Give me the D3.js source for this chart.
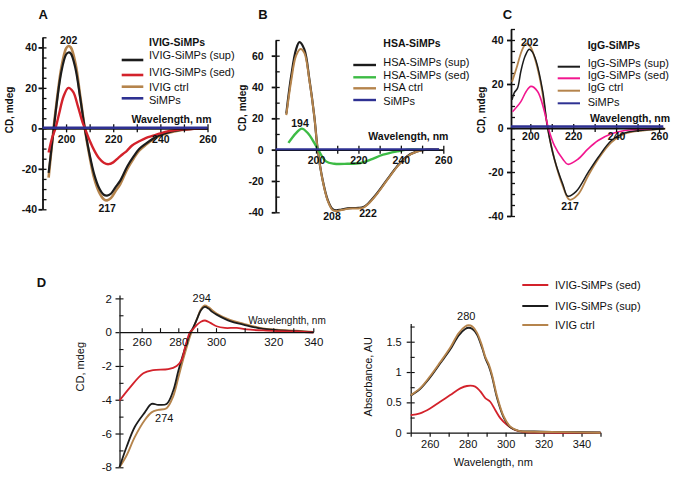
<!DOCTYPE html>
<html>
<head>
<meta charset="utf-8">
<script src="https://cdn.jsdelivr.net/npm/d3@7"></script>
<style>
  body { margin: 0; background: #fff; }
  svg { display: block; font-family: "Liberation Sans", Arial, sans-serif; }
</style>
</head>
<body>
<svg id="fig" width="685" height="478"></svg>
<script>
// ---- data: [wavelength (nm), value] ----

// A: IVIG-SiMPs, CD (mdeg)
const ivigSup = [[192.6,-22],[194.8,0],[196,12],[198,28],[200,36.5],[201,37.5],[202,37],[204,29.5],[206,15],[208,-0.5],[210,-13],[212,-23],[214,-29.5],[216,-32.8],[217.4,-33.2],[219,-32.3],[221,-29],[223,-25.8],[226,-18.7],[228.6,-14],[231,-10.2],[234,-7.4],[237,-5],[240,-3.3],[244,-1.8],[248,-0.9],[252,-0.4],[256,-0.1],[260,0]]
const ivigSed = [[192.6,-11.9],[194,-5],[195.5,0],[197,7],[199,16],[201,20],[203,18],[205,11],[207,3],[208,0],[210,-6],[212,-11],[214,-14.8],[216,-17],[218,-17.7],[220,-16.8],[222,-14.8],[224,-12.8],[225.8,-11.1],[228,-8.5],[231.5,-6.1],[234,-4.7],[237,-3.6],[240,-2.5],[243,-1.5],[246.5,-0.9],[250,-0.5],[255,-0.2],[260,0]]
const ivigCtrl = [[192.6,-24.4],[194.7,0],[196,13],[198,30],[200,39.5],[201,40.7],[202,40],[204,32],[206,16],[208,-0.5],[210,-14],[212,-25],[214,-31.5],[216,-35],[217.4,-35.6],[219,-34.5],[221,-31],[223,-27.5],[226,-20],[228.6,-15],[231,-11],[234,-8],[237,-5.5],[240,-3.6],[244,-2],[248,-1],[252,-0.4],[256,-0.1],[260,0]]
const simpsA = [[190,0.3],[260,0.3]]

// B: HSA-SiMPs, CD (mdeg)
const hsaSup = [[186,23],[188.3,47],[190.6,64],[192.2,68.6],[194.5,64],[196.9,44.7],[199.2,21.3],[200.8,0],[203.1,-19.2],[205.5,-32],[207.8,-38],[209.5,-38.8],[212,-38.2],[216,-37.3],[220,-37.2],[222.4,-36.6],[224.5,-34.5],[228.9,-27.7],[233.5,-19.2],[238.2,-10.7],[242.9,-4.3],[247.6,-1.1],[252,0],[258,0]]
const hsaSed = [[187,4.3],[190.6,10.6],[193.3,13.4],[196.1,10.6],[199.2,4.3],[201,0],[204.7,-7.5],[208.6,-9],[214.8,-9],[221,-8.5],[225.7,-6.4],[231.6,-3.2],[238.2,-1.1],[243,0],[250,0]]
const hsaCtrl = [[186,22],[188.3,44],[190.6,60],[192.7,64.3],[194.5,61.8],[196.9,44],[199.2,21],[200.8,0],[203.1,-19.5],[205.5,-32.5],[207.8,-38.5],[209.5,-39.2],[212,-38.5],[216,-37.6],[220,-37.5],[222.4,-37],[224.5,-34.8],[228.9,-28],[233.5,-19.5],[238.2,-11],[242.9,-4.5],[247.6,-1.2],[252,0],[258,0]]
const simpsB = [[181,0.3],[258,0.3]]

// C: IgG-SiMPs, CD (mdeg)
const iggSup = [[191.5,12.8],[192.5,16],[194,18],[195.6,25.8],[197.5,32.5],[199.5,35.8],[201,34.5],[202.7,30.5],[205.8,16.6],[208.1,0],[211.25,-14.2],[215.2,-25.7],[217.5,-31],[221.4,-28.8],[226.9,-20.3],[231.6,-13.4],[237.8,-5.7],[244,-2.2],[253.4,-0.9],[262.8,-0.3]]
const iggSed = [[191.7,7.4],[195.6,12],[198,16.5],[200.3,18.9],[203.4,16.6],[206.6,7.4],[208.4,0],[211.25,-8],[215.2,-14.2],[217.5,-16.5],[222.2,-14.2],[226.9,-9.5],[231.6,-5.7],[237.8,-2.6],[244,-1.1],[250.3,-0.6],[256.6,-0.3]]
const iggCtrl = [[191.5,21],[193.5,27],[196,35],[198,38.4],[200,37],[202,32],[205,19.7],[208.1,0],[211.25,-14.2],[215.2,-26.5],[218.3,-32.6],[222.2,-30.3],[226.9,-21.8],[231.6,-14.2],[237.8,-6.5],[244,-2.6],[253.4,-1.1],[263,-0.3]]
const simpsC = [[191,0.7],[262,0.7]]

// D left: near-UV CD (mdeg)
const nearSed = [[248,-4.05],[253.6,-3.28],[260.9,-2.43],[266.3,-2.25],[274.5,-2.19],[279.1,-2.0],[281.8,-1.65],[283.6,-0.9],[286.2,0],[288,0.2],[290,0.45],[292,0.62],[294.2,0.69],[297,0.55],[300.2,0.35],[303.1,0.25],[307.2,0.25],[310.7,0.16],[316.5,0.1],[321.7,0.06],[331.7,0.04],[340,-0.02]]
const nearSup = [[248,-8],[251.8,-6.8],[256.3,-5.6],[261.7,-4.75],[265.4,-4.25],[269,-4.3],[273.6,-4.25],[277.2,-3.47],[280,-2.3],[282.6,-1.3],[286.5,0],[288,0.3],[290,0.8],[292,1.3],[294,1.5],[296,1.4],[298,1.2],[300.2,1.04],[304.9,0.65],[309.5,0.45],[315.4,0.22],[321.7,0.12],[331.7,0.06],[340,0]]
const nearCtrl = [[248,-8],[251.8,-7.3],[256.3,-6.2],[261.7,-5.2],[265.4,-4.75],[269,-4.6],[273.6,-4.5],[277.2,-3.8],[280,-2.7],[282.6,-1.6],[287,0],[288,0.25],[290,0.8],[292,1.35],[294,1.58],[296,1.48],[298,1.3],[300.2,1.1],[304.9,0.72],[309.5,0.5],[315.4,0.25],[321.7,0.14],[331.7,0.08],[340,0.02]]

// D right: absorbance (AU)
const absSed = [[250,0.29],[254.9,0.32],[260.2,0.4],[265.5,0.51],[270.8,0.62],[276.1,0.73],[279.6,0.77],[284,0.76],[286.7,0.68],[289.3,0.57],[291.9,0.51],[294.6,0.37],[297.2,0.24],[300.7,0.13],[305.2,0.04],[310,0.01],[320,0],[350,0]]
const absSup = [[250,0.61],[254.9,0.72],[260.2,0.91],[265.5,1.14],[270.8,1.37],[275.2,1.6],[278.7,1.71],[280.6,1.73],[282.5,1.71],[284.9,1.62],[287.6,1.4],[289.3,1.23],[291.1,1.1],[292.8,0.93],[295.5,0.57],[299,0.25],[302.5,0.09],[306.9,0.03],[315,0.02],[330,0.01],[350,0.005]]
const absCtrl = [[250,0.62],[254.9,0.73],[260.2,0.93],[265.5,1.16],[270.8,1.4],[275.2,1.64],[278.7,1.75],[280.6,1.77],[282.5,1.75],[284.9,1.65],[287.6,1.43],[289.3,1.25],[291.1,1.13],[292.8,0.96],[295.5,0.6],[299,0.27],[302.5,0.1],[306.9,0.03],[315,0.015],[330,0.01],[350,0]]

// tick values
const cdTicksA = [-40, -20, 0, 20, 40]
const cdTicksB = [-40, -20, 0, 20, 40, 60]
const wlTicksAC = [200, 220, 240, 260]
const nearCdTicks = [-8, -6, -4, -2, 0, 2]
const nearWlTicks = [260, 280, 300, 320, 340]
const absTicks = [0, 0.5, 1, 1.5]
const absWlTicks = [260, 280, 300, 320, 340]

const colors = {
  sup: "#1c1c1c", ctrl: "#b5844c", simps: "#2e3192",
  red: "#d3222b", green: "#3dbb45", pink: "#f2168f"
}

const svg = d3.select("#fig")
const fontFam = '"Liberation Sans", Arial, sans-serif'
const plain = d => String(d)   // hyphen-minus like the original

function styleAxis(g, size, weight, sw) {
  g.attr("font-family", fontFam).attr("font-size", size).attr("font-weight", weight)
  g.selectAll("path, line").attr("stroke", "#111").attr("stroke-width", sw)
  g.selectAll("text").attr("fill", "#111")
}

function addCurves(g, x, y, series) {
  const line = d3.line()
    .x(d => x(d[0]))
    .y(d => y(d[1]))
    .curve(d3.curveCatmullRom.alpha(0.5))
  series.forEach(s => {
    g.append("path")
      .attr("d", line(s.data))
      .attr("fill", "none")
      .attr("stroke", s.color)
      .attr("stroke-width", s.width)
      .attr("stroke-linejoin", "round")
  })
}

function addText(g, x, y, txt, opts = {}) {
  return g.append("text")
    .attr("x", x).attr("y", y)
    .attr("font-size", opts.size || 11)
    .attr("font-weight", opts.weight || "normal")
    .attr("text-anchor", opts.anchor || "start")
    .attr("fill", opts.fill || "#111")
    .text(txt)
}

function addYTitle(g, cx, cy, txt, size, weight) {
  g.append("text")
    .attr("transform", `translate(${cx},${cy}) rotate(-90)`)
    .attr("dy", "0.35em")
    .attr("text-anchor", "middle")
    .attr("font-size", size)
    .attr("font-weight", weight)
    .attr("fill", "#111")
    .text(txt)
}

function addLegend(g, p) {
  addText(g, p.textX, p.titleY, p.title, { size: 10.5, weight: "bold" })
  p.rows.forEach((r, i) => {
    g.append("line")
      .attr("x1", p.lineX[0]).attr("x2", p.lineX[1])
      .attr("y1", p.lineY[i]).attr("y2", p.lineY[i])
      .attr("stroke", r.color).attr("stroke-width", p.width)
    addText(g, p.textX, p.textY[i], r.label, { size: 11 })
  })
}

// ---- far-UV CD panels (A, B, C) ----
function farPanel(p) {
  const g = svg.append("g")
  const x = d3.scaleLinear().domain(p.xDomain).range(p.xRange)
  const y = d3.scaleLinear().domain(p.yDomain).range(p.yRange)
  const ax = x(p.xDomain[0])
  const y0 = y(0)

  const yMajor = g.append("g").attr("transform", `translate(${ax},0)`)
    .call(d3.axisLeft(y).tickValues(p.yTicks).tickFormat(plain).tickSize(4).tickSizeOuter(0).tickPadding(p.yPad))
  styleAxis(yMajor, 10.5, "bold", 1.8)
  const yMinor = g.append("g").attr("transform", `translate(${ax},0)`)
    .call(d3.axisRight(y).tickValues(d3.range(p.yDomain[0], p.yDomain[1] + 0.01, p.minorStep)).tickSize(4).tickFormat(""))
  yMinor.select(".domain").remove()
  styleAxis(yMinor, 10, "normal", 1.3)

  addCurves(g, x, y, p.series)

  const xLab = g.append("g").attr("transform", `translate(0,${y0})`)
    .call(d3.axisBottom(x).tickValues(wlTicksAC).tickFormat(plain).tickSize(0).tickPadding(p.xPad))
  styleAxis(xLab, 10.5, "bold", 1.8)
  const xTick = g.append("g").attr("transform", `translate(0,${y0 - 4})`)
    .call(d3.axisBottom(x).tickValues(d3.range(200, 261, 10)).tickSize(8).tickFormat(""))
  xTick.select(".domain").remove()
  styleAxis(xTick, 10, "normal", 1.3)

  addCurves(g, x, y, [p.blue])

  addText(g, p.letter[0], p.letter[1], p.letter[2], { size: 13, weight: "bold" })
  addText(g, p.wlLabel[0], p.wlLabel[1], "Wavelength, nm", { size: 10.5, weight: "bold" })
  addYTitle(g, p.yTitle[0], p.yTitle[1], "CD, mdeg", 10, "bold")
  p.peaks.forEach(k => addText(g, k[0], k[1], k[2], { size: 10.5, weight: "bold", anchor: "middle" }))
  addLegend(g, p.legend)
}

farPanel({
  xDomain: [190, 260], xRange: [42.5, 207.5],
  yDomain: [-40, 45], yRange: [209.3, 37.3], yTicks: cdTicksA, minorStep: 5,
  yPad: 1.5, xPad: 7,
  series: [
    { data: ivigCtrl, color: colors.ctrl, width: 2.6 },
    { data: ivigSup, color: colors.sup, width: 2.2 },
    { data: ivigSed, color: colors.red, width: 2.4 }
  ],
  blue: { data: simpsA, color: colors.simps, width: 2.6 },
  letter: [38.5, 19, "A"], wlLabel: [131.5, 123], yTitle: [9, 110],
  peaks: [[68.7, 44, "202"], [107.2, 211.7, "217"]],
  legend: {
    title: "IVIG-SiMPs", textX: 149, titleY: 45.5, width: 2.6,
    lineX: [121.7, 143.3], lineY: [60, 75, 86.7, 98.3], textY: [59, 75.5, 91, 104],
    rows: [
      { label: "IVIG-SiMPs (sup)", color: colors.sup },
      { label: "IVIG-SiMPs (sed)", color: colors.red },
      { label: "IVIG ctrl", color: colors.ctrl },
      { label: "SiMPs", color: colors.simps }
    ]
  }
})

farPanel({
  xDomain: [181, 260], xRange: [275.7, 443.3],
  yDomain: [-40, 70], yRange: [212.3, 40], yTicks: cdTicksB, minorStep: 10,
  yPad: 8, xPad: 7,
  series: [
    { data: hsaSup, color: colors.sup, width: 2.2 },
    { data: hsaCtrl, color: colors.ctrl, width: 2 },
    { data: hsaSed, color: colors.green, width: 2.4 }
  ],
  blue: { data: simpsB, color: colors.simps, width: 2 },
  letter: [258.3, 19, "B"], wlLabel: [368.3, 140], yTitle: [242, 108],
  peaks: [[300, 127.3, "194"], [332, 220, "208"], [368, 217.3, "222"]],
  legend: {
    title: "HSA-SiMPs", textX: 383.3, titleY: 47, width: 2.4,
    lineX: [353.3, 376], lineY: [65, 77.3, 88.3, 100], textY: [65.5, 79, 91.3, 105],
    rows: [
      { label: "HSA-SiMPs (sup)", color: colors.sup },
      { label: "HSA-SiMPs (sed)", color: colors.green },
      { label: "HSA ctrl", color: colors.ctrl },
      { label: "SiMPs", color: colors.simps }
    ]
  }
})

farPanel({
  xDomain: [191, 262], xRange: [511, 663.3],
  yDomain: [-40, 45], yRange: [216, 29], yTicks: cdTicksA, minorStep: 5,
  yPad: 3.5, xPad: 5,
  series: [
    { data: iggCtrl, color: colors.ctrl, width: 1.8 },
    { data: iggSup, color: colors.sup, width: 1.5 },
    { data: iggSed, color: colors.pink, width: 1.6 }
  ],
  blue: { data: simpsC, color: colors.simps, width: 2.6 },
  letter: [502.7, 19, "C"], wlLabel: [590, 122], yTitle: [481.5, 110],
  peaks: [[529.7, 45.5, "202"], [570, 210, "217"]],
  legend: {
    title: "IgG-SiMPs", textX: 587.7, titleY: 48.7, width: 2,
    lineX: [557.7, 580], lineY: [66.7, 78.3, 90.7, 103.3], textY: [67.2, 79, 91.3, 105.5],
    rows: [
      { label: "IgG-SiMPs (sup)", color: colors.sup },
      { label: "IgG-SiMPs (sed)", color: colors.pink },
      { label: "IgG ctrl", color: colors.ctrl },
      { label: "SiMPs", color: colors.simps }
    ]
  }
})

// ---- D left: near-UV CD ----
{
  const g = svg.append("g")
  const x = d3.scaleLinear().domain([248, 260, 280, 300, 320, 340]).range([119.5, 141.7, 178.3, 216, 273.3, 313.3])
  const y = d3.scaleLinear().domain([-8, 2.2]).range([467.3, 295])
  const y0 = y(0)

  const yMajor = g.append("g").attr("transform", `translate(${x(248)},0)`)
    .call(d3.axisLeft(y).tickValues(nearCdTicks).tickFormat(plain).tickSize(4).tickSizeOuter(0).tickPadding(3.5))
  styleAxis(yMajor, 11.5, "normal", 1.2)
  const yMinor = g.append("g").attr("transform", `translate(${x(248)},0)`)
    .call(d3.axisRight(y).tickValues([-8, -7, -6, -5, -4, -3, -2, -1, 1, 2]).tickSize(4).tickFormat(""))
  yMinor.select(".domain").remove()
  styleAxis(yMinor, 10, "normal", 1.1)

  addCurves(g, x, y, [
    { data: nearCtrl, color: colors.ctrl, width: 1.9 },
    { data: nearSup, color: colors.sup, width: 1.8 },
    { data: nearSed, color: colors.red, width: 1.8 }
  ])

  const xLab = g.append("g").attr("transform", `translate(0,${y0})`)
    .call(d3.axisBottom(x).tickValues(nearWlTicks).tickFormat(plain).tickSize(0).tickPadding(6))
  styleAxis(xLab, 11.5, "normal", 1.2)
  const xTick = g.append("g").attr("transform", `translate(0,${y0})`)
    .call(d3.axisTop(x).tickValues(d3.range(260, 341, 10)).tickSize(4).tickFormat(""))
  xTick.select(".domain").remove()
  styleAxis(xTick, 10, "normal", 1.1)

  addText(g, 36.7, 287.3, "D", { size: 13, weight: "bold" })
  addText(g, 248.3, 323.5, "Wavelenghth, nm", { size: 10 })
  addYTitle(g, 80, 366.7, "CD, mdeg", 11, "normal")
  addText(g, 201.7, 301.5, "294", { size: 11, anchor: "middle" })
  addText(g, 164.2, 421.5, "274", { size: 11, anchor: "middle" })
}

// ---- D right: absorbance ----
{
  const g = svg.append("g")
  const x = d3.scaleLinear().domain([250, 350]).range([410.7, 600.5])
  const y = d3.scaleLinear().domain([0, 1.8]).range([432.7, 323.5])

  const yMajor = g.append("g").attr("transform", `translate(${x(250)},0)`)
    .call(d3.axisLeft(y).tickValues(absTicks).tickFormat(plain).tickSize(4).tickSizeOuter(0).tickPadding(5))
  styleAxis(yMajor, 11, "normal", 1.2)
  const yMinor = g.append("g").attr("transform", `translate(${x(250)},0)`)
    .call(d3.axisRight(y).tickValues([0.25, 0.5, 0.75, 1, 1.25, 1.5, 1.75]).tickSize(4).tickFormat(""))
  yMinor.select(".domain").remove()
  styleAxis(yMinor, 10, "normal", 1.1)

  const xLab = g.append("g").attr("transform", `translate(0,${y(0)})`)
    .call(d3.axisBottom(x).tickValues(d3.range(250, 351, 10)).tickSize(4).tickSizeOuter(0).tickPadding(4)
      .tickFormat(d => absWlTicks.includes(d) ? String(d) : ""))
  styleAxis(xLab, 11, "normal", 1.2)

  addCurves(g, x, y, [
    { data: absSed, color: colors.red, width: 1.8 },
    { data: absSup, color: colors.sup, width: 1.8 },
    { data: absCtrl, color: colors.ctrl, width: 1.9 }
  ])

  addText(g, 493.3, 465.5, "Wavelength, nm", { size: 11, anchor: "middle" })
  addYTitle(g, 368.3, 376.7, "Absorbance, AU", 11, "normal")
  addText(g, 466.2, 320, "280", { size: 11, anchor: "middle" })

  const legRows = [
    { label: "IVIG-SiMPs (sed)", color: colors.red, y: 285 },
    { label: "IVIG-SiMPs (sup)", color: colors.sup, y: 306 },
    { label: "IVIG ctrl", color: colors.ctrl, y: 325 }
  ]
  legRows.forEach(r => {
    g.append("line").attr("x1", 522.3).attr("x2", 548.3).attr("y1", r.y).attr("y2", r.y)
      .attr("stroke", r.color).attr("stroke-width", 2)
    addText(g, 555, r.y + 4, r.label, { size: 11 })
  })
}
</script>
</body>
</html>
